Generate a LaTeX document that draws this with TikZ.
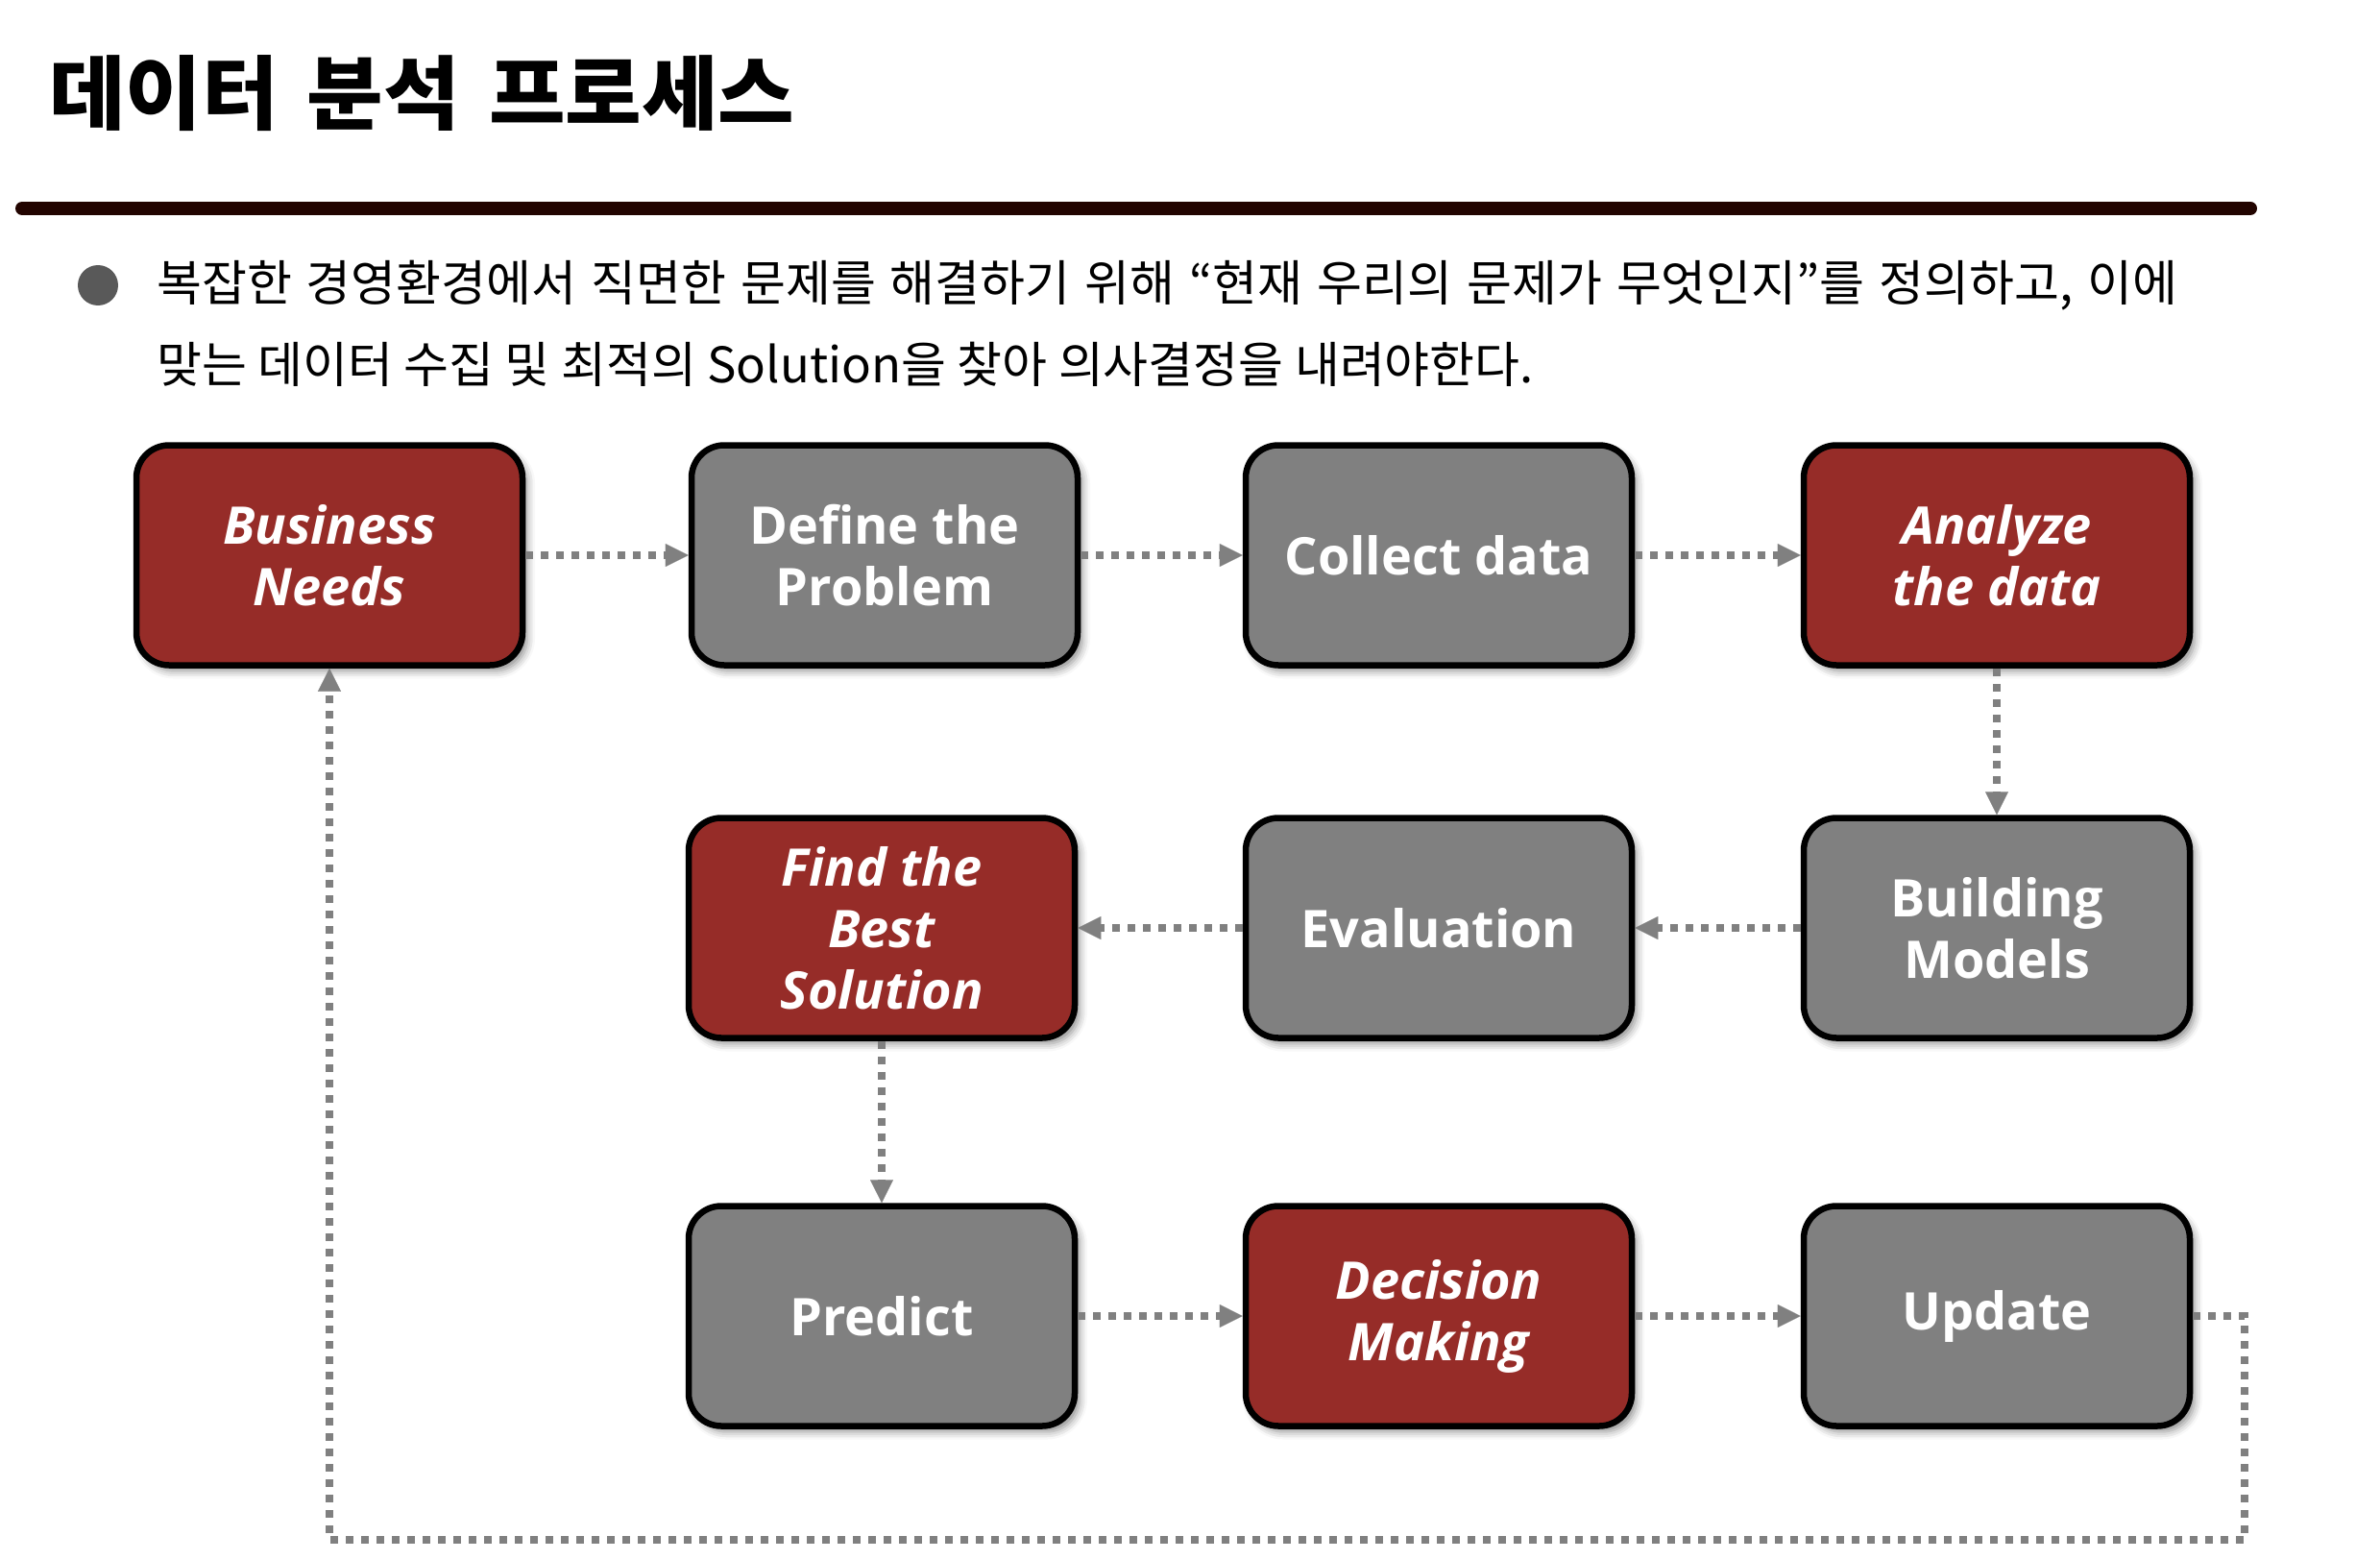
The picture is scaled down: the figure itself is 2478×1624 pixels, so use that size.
\documentclass[tikz,border=0pt]{standalone}
\usepackage{fontspec}
\setmainfont{Open Sans}
\newfontfamily\krfont{Noto Sans CJK KR}
\newfontfamily\krtitle{Noto Sans CJK KR}[FakeStretch=1.03]
\usetikzlibrary{arrows.meta,shadows.blur}

\newcommand\titlegap{\spaceskip 30pt\relax}
\newcommand\leadgap{\spaceskip 15pt\relax}

\definecolor{boxred}{RGB}{150,44,40}
\definecolor{boxgray}{RGB}{128,128,128}
\definecolor{linkgray}{RGB}{128,128,128}
\definecolor{barbrown}{RGB}{34,4,0}
\definecolor{bulletgray}{RGB}{89,89,89}

\tikzset{
  stepbox/.style={draw=black, line width=6.5pt, rounded corners=34pt,
    minimum width=402pt, minimum height=229pt, inner sep=0pt,
    text=white, align=center,
    blur shadow={shadow xshift=5pt, shadow yshift=-6pt,
      shadow blur radius=8pt, shadow opacity=45}},
  graybox/.style={stepbox, fill=boxgray,
    font=\fontsize{54}{64}\selectfont\bfseries},
  redbox/.style={stepbox, fill=boxred,
    font=\fontsize{54}{64}\selectfont\bfseries\itshape},
  flow/.style={draw=linkgray, line width=8pt, dash pattern=on 8pt off 8pt,
    -{Triangle[length=24pt,width=24pt,line width=0.1pt]}},
}

\begin{document}
\begin{tikzpicture}[x=1pt,y=-1pt]
\useasboundingbox (0,0) rectangle (2478,1624);

% heading and rule
\node[anchor=base west, inner sep=0pt,
      font=\krtitle\bfseries\fontsize{84}{90}\selectfont\titlegap]
  (title) at (51,129) {데이터 분석 프로세스};
\draw[barbrown, line width=14pt, line cap=round] (23,217) -- (2343,217);

% bullet text
\fill[bulletgray] (102,297) circle (21);
\node[anchor=base west, inner sep=0pt,
      font=\krfont\fontsize{51}{60}\selectfont\leadgap]
  (l1) at (163,313) {복잡한 경영환경에서 직면한 문제를 해결하기 위해 “현재 우리의 문제가 무엇인지”를 정의하고, 이에};
\node[anchor=base west, inner sep=0pt, font=\krfont\fontsize{51}{60}\selectfont]
  (l2) at (163,398) {맞는 데이터 수집 및 최적의 Solution을 찾아 의사결정을 내려야한다.};

% process steps
\node[redbox]  (need) at (343,578)  {Business\\Needs};
\node[graybox] (def)  at (921,578)  {Define the\\Problem};
\node[graybox] (col)  at (1498,578) {Collect data};
\node[redbox]  (ana)  at (2079,578) {Analyze\\the data};

\node[redbox]  (fnd)  at (918,966)  {Find the\\Best\\Solution};
\node[graybox] (eva)  at (1498,966) {Evaluation};
\node[graybox] (bld)  at (2079,966) {Building\\Models};

\node[graybox] (prd)  at (918,1370)  {Predict};
\node[redbox]  (dec)  at (1498,1370) {Decision\\Making};
\node[graybox] (upd)  at (2079,1370) {Update};

% connectors
\draw[flow] (need) -- (def);
\draw[flow] (def) -- (col);
\draw[flow] (col) -- (ana);
\draw[flow] (ana) -- (bld);
\draw[flow] (bld) -- (eva);
\draw[flow] (eva) -- (fnd);
\draw[flow] (fnd) -- (prd);
\draw[flow] (prd) -- (dec);
\draw[flow] (dec) -- (upd);

% feedback loop from Update back to Business Needs
\coordinate (back) at (2337,1603);
\draw[flow] (upd.east) -| (back) -| (need.south);
\end{tikzpicture}
\end{document}
